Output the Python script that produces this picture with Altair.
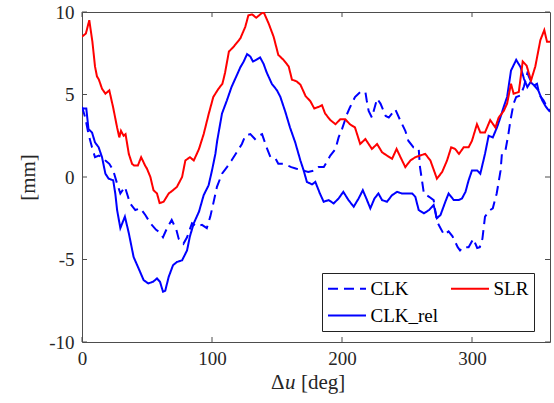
import altair as alt
import pandas as pd

series_names = ["CLK", "CLK_rel", "SLR"]
series_colors = ["#0000ff", "#0000ff", "#ff0000"]
series_dashes = [[10, 6], [1, 0], [1, 0]]

x_ticks = [0, 100, 200, 300]
y_ticks = [-10, -5, 0, 5, 10]
x_title_parts = ["Δ", "u", "[deg]"]

slr_x = [0, 3, 5.6, 8, 10, 11.5, 13, 15.4, 18, 21, 24, 27, 28.7, 30, 32, 33.5, 36, 38.5, 40, 43,
         45.5, 48.5, 50, 52.6, 55, 57.7, 59.7, 62.8, 66.7, 70, 73, 77, 79.5, 83, 86, 90, 93.6, 97.4,
         101, 105, 108, 110, 113, 116.7, 121.8, 125.6, 128, 131, 134, 137, 139.7, 143.6, 147.4, 151,
         155, 159, 161.5, 165, 168, 172, 175.6, 178.7, 182, 184.6, 187, 191, 195, 198.7, 202.5, 206,
         210, 214, 218, 223, 227, 230.8, 234.6, 238.5, 242, 245, 248.7, 252.6, 256.4, 260, 264, 268,
         273, 277, 280.8, 284, 287, 290, 293.6, 297.4, 300, 303.8, 306.4, 310, 314, 318, 320.5, 324.4,
         327, 330, 332, 336, 339, 342, 345.4, 348.7, 352.6, 355.6, 357.7, 360]
slr_y = [8.5, 8.7, 9.5, 8.2, 6.7, 6.1, 5.9, 5.35, 5.05, 5.25, 4.2, 3.0, 2.4, 2.8, 2.5, 2.6, 1.4, 0.8, 0.7, 0.7,
         1.2, 0.7, 0.5, 0.0, -0.8, -1.0, -1.58, -1.5, -1.0, -0.8, -0.6, 0.0, 1.0, 1.2, 1.0, 1.7, 2.6, 3.8,
         4.85, 5.35, 5.65, 6.3, 7.6, 7.9, 8.4, 9.1, 9.8, 9.85, 9.65, 9.85, 10.0, 9.3, 8.5, 7.4,
         7.1, 6.7, 5.9, 5.8, 5.6, 4.9, 4.6, 4.15, 4.25, 4.35, 3.85, 3.45, 3.2, 3.5, 3.5, 3.2,
         3.0, 2.0, 2.3, 1.7, 2.0, 1.5, 1.3, 1.1, 1.7, 1.2, 0.6, 1.0, 1.2, 1.3, 1.4, 1.0,
         -0.1, 0.3, 1.0, 1.8, 1.7, 1.4, 1.8, 1.8, 2.2, 3.2, 2.7, 2.7, 3.45, 3.0, 3.6, 4.0,
         4.45, 5.65, 5.05, 5.15, 7.0, 6.75, 5.85, 6.7, 8.3, 8.9, 8.2, 8.2]

rel_x = [0, 3.3, 5, 7.7, 10, 12.8, 15.4, 18, 20.5, 24, 25.6, 27, 29.5, 33, 36, 39.7, 43.6, 47.4, 51, 54.6,
         57.7, 60, 62.3, 64, 66.7, 70, 73, 77, 80.8, 83, 86, 90, 93.6, 97.4, 100, 102.6, 104, 107.7,
         111.5, 115, 119, 121.8, 124.4, 127, 129.5, 131.5, 134, 137, 139.7, 142, 146, 150, 152.6,
         156.4, 160, 164, 168, 170.5, 173, 177, 179.5, 181, 183, 185.9, 189.7, 193.6, 197.4, 201,
         205, 209, 212.8, 216, 218.7, 221.8, 225, 228, 230.8, 234.6, 238.5, 242.4, 246, 250, 254,
         256.4, 259, 263, 267, 270.5, 273, 275.8, 279.5, 282, 286, 289.7, 292.3, 295, 297.4, 300,
         304, 306.4, 310, 312.8, 316, 319.2, 321.8, 324.4, 327, 330, 334, 337.4, 340, 342.6, 345,
         347.9, 351, 354, 356.9, 360]
rel_y = [4.15, 4.15, 2.9, 2.7, 2.1, 1.8, 1.2, 0.2, -0.1, -0.2, -1.0, -2.0, -3.1, -2.4, -3.4, -4.85, -5.55, -6.25, -6.45, -6.35,
         -6.15, -6.35, -6.95, -6.9, -6.05, -5.35, -5.15, -5.05, -4.45, -3.6, -2.8, -2.1, -1.1, -0.5, 0.4, 1.4, 2.2, 3.85,
         4.65, 5.45, 6.15, 6.65, 7.0, 7.45, 7.3, 7.0, 7.1, 7.25, 6.85, 6.35, 5.65, 5.25, 4.85,
         3.95, 3.0, 2.1, 1.0, 0.4, -0.3, -0.45, -0.3, -0.6, -1.0, -1.5, -1.4, -1.6, -1.3, -0.9,
         -1.4, -1.8, -1.3, -0.8, -1.3, -1.9, -1.3, -1.0, -1.4, -1.5, -1.1, -0.9, -1.0, -1.0, -1.0,
         -1.2, -2.0, -2.2, -2.0, -1.7, -2.5, -2.3, -1.5, -1.0, -1.4, -1.4, -1.3, -0.9, -0.2, 0.4,
         0.4, 0.2, 1.4, 2.5, 2.4, 3.0, 3.6, 4.25, 4.85, 6.45, 7.1, 6.65, 5.95, 5.45, 5.75,
         5.55, 5.25, 4.65, 4.25, 3.95]

clk_x = [0, 2.5, 5, 7.7, 10, 13, 15.4, 18, 21, 24, 27, 29.5, 33, 37, 41, 45, 48.7, 52.6, 57, 59.7,
         62.3, 65.4, 69, 72.6, 74.4, 78, 80.8, 84.6, 88.5, 92.3, 96, 98.7, 101, 103.8, 107.7, 111.5,
         115, 119, 123, 125.6, 129.5, 133, 135.5, 138.5, 142, 145, 149, 151, 155, 158, 161, 165, 170,
         174, 179, 182, 186, 191, 195, 197.4, 200, 203.8, 206, 210, 214, 218, 219, 220.5, 223, 227,
         229.6, 233.6, 236, 241, 245, 248.7, 251, 255, 259, 260, 263, 267, 270.5, 273, 275.8, 278.5,
         282, 285, 289, 290.8, 293, 297.4, 301, 304, 306, 308, 310, 314, 316, 319, 322, 323, 325.7,
         328, 329.5, 332, 334, 337.4, 340, 342.6, 345, 347.9, 350, 352, 355, 358, 360]
clk_y = [4.25, 3.6, 2.6, 1.8, 1.2, 1.3, 1.2, 1.0, 0.8, 0.4, -0.4, -1.0, -0.6, -1.6, -2.0, -1.9, -2.3, -2.8, -3.2, -3.35,
         -3.65, -3.1, -2.6, -3.2, -3.75, -4.05, -3.65, -2.8, -3.0, -2.9, -3.1, -2.4, -1.6, -0.6, 0.2, 0.6,
         1.0, 1.5, 2.0, 2.5, 2.6, 2.3, 2.5, 2.6, 1.8, 1.2, 1.1, 0.8, 0.8, 0.7, 0.6, 0.5, 0.4,
         0.3, 0.4, 0.6, 0.6, 1.3, 1.7, 2.4, 2.9, 3.8, 4.2, 4.85, 5.15, 5.15, 4.65, 4.0, 3.6, 4.75,
         4.45, 3.7, 3.6, 4.1, 3.4, 2.8, 2.2, 1.8, 1.7, 0.6, -1.0, -1.2, -1.4, -2.7, -3.1, -3.5,
         -3.3, -3.6, -4.25, -4.45, -4.25, -4.25, -3.75, -4.3, -4.25, -3.75, -2.4, -2.0, -1.9, -1.0, 0.4, 1.4, 1.6,
         2.6, 3.4, 4.45, 4.85, 4.95, 5.5, 6.3, 5.85, 5.55, 5.65, 4.95, 4.65, 4.2, 4.0]

rows = []
for name, xs, ys in [("CLK", clk_x, clk_y), ("CLK_rel", rel_x, rel_y), ("SLR", slr_x, slr_y)]:
    for i, (xv, yv) in enumerate(zip(xs, ys)):
        rows.append({"series": name, "x": xv, "y": yv, "i": i})
df = pd.DataFrame(rows)

FONT = "Liberation Serif"
AX = "#4d4d4d"
TXT = "#262626"
W, H = 468, 330

xscale = alt.Scale(domain=[0, 360], nice=False, zero=False)
yscale = alt.Scale(domain=[-10, 10], nice=False, zero=False)

legend = alt.Legend(
    title=None, orient="none", legendX=240, legendY=261, columns=2,
    symbolType="M-2,0H2", symbolSize=361, symbolStrokeWidth=2,
    symbolOffset=9.5, labelOffset=13,
    labelFont=FONT, labelFontSize=19, labelColor="#000000",
    fillColor="#ffffff", strokeColor="#222222", padding=5,
    rowPadding=6, columnPadding=8,
)

xaxis = alt.Axis(values=x_ticks, title=None, tickSize=0, domain=False, grid=False,
                 labelPadding=7, labelFlush=False, labelExpr="'' + datum.value")
yaxis = alt.Axis(values=y_ticks, title="[mm]", tickSize=0, domain=False, grid=False,
                 labelPadding=8, titlePadding=10, labelFlush=False, labelExpr="'' + datum.value")

lines = alt.Chart(df).mark_line(strokeWidth=2, clip=True).encode(
    x=alt.X("x:Q", scale=xscale, axis=xaxis),
    y=alt.Y("y:Q", scale=yscale, axis=yaxis),
    color=alt.Color("series:N", scale=alt.Scale(domain=series_names, range=series_colors), legend=legend),
    strokeDash=alt.StrokeDash("series:N", scale=alt.Scale(domain=series_names, range=series_dashes), legend=legend),
    detail="series:N",
    order="i:Q",
)

xt = pd.DataFrame({"x": x_ticks})
yt = pd.DataFrame({"y": y_ticks})

bottom = alt.Chart(xt).mark_rule(color=AX).encode(
    x=alt.X("x:Q", scale=xscale, axis=xaxis), y=alt.value(H), y2=alt.value(H - 5))
top = alt.Chart(xt).mark_rule(color=AX).encode(
    x=alt.X("x:Q", scale=xscale, axis=xaxis), y=alt.value(0), y2=alt.value(5))
left = alt.Chart(yt).mark_rule(color=AX).encode(
    y=alt.Y("y:Q", scale=yscale, axis=yaxis), x=alt.value(0), x2=alt.value(5))
right = alt.Chart(yt).mark_rule(color=AX).encode(
    y=alt.Y("y:Q", scale=yscale, axis=yaxis), x=alt.value(W), x2=alt.value(W - 5))

# x-axis title "Δu [deg]" with an italic u
t1 = alt.Chart(pd.DataFrame({"t": [x_title_parts[0]]})).mark_text(
    font=FONT, fontSize=21, color=TXT, align="left", baseline="middle").encode(
    text="t:N", x=alt.value(189), y=alt.value(371))
t2 = alt.Chart(pd.DataFrame({"t": [x_title_parts[1]]})).mark_text(
    font=FONT, fontSize=21, fontStyle="italic", color=TXT, align="left", baseline="middle").encode(
    text="t:N", x=alt.value(203), y=alt.value(371))
t3 = alt.Chart(pd.DataFrame({"t": [x_title_parts[2]]})).mark_text(
    font=FONT, fontSize=21, color=TXT, align="left", baseline="middle").encode(
    text="t:N", x=alt.value(219), y=alt.value(371))

chart = alt.layer(lines, bottom, top, left, right, t1, t2, t3).properties(
    width=W, height=H,
    autosize=alt.AutoSizeParams(type="none"),
    padding={"left": 82, "top": 12, "right": 4, "bottom": 61},
).configure_view(stroke=AX, strokeWidth=1).configure_axis(
    labelFont=FONT, labelFontSize=19, labelColor=TXT,
    titleFont=FONT, titleFontSize=21, titleFontWeight="normal", titleColor=TXT,
)

chart.save("out.html", embed_options={"renderer": "svg", "actions": False})
